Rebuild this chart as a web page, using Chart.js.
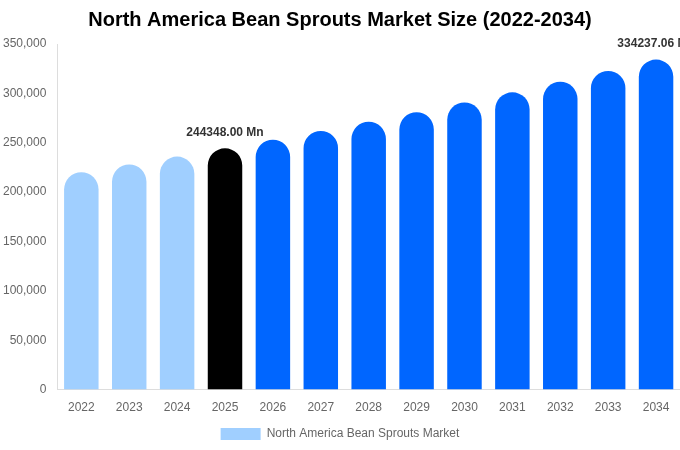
<!DOCTYPE html>
<html>
<head>
<meta charset="utf-8">
<script src="https://cdn.jsdelivr.net/npm/chart.js@4.4.1/dist/chart.umd.min.js"></script>
<style>
  html, body { margin: 0; padding: 0; background: #fff; }
  #wrap { width: 680px; height: 450px; }
</style>
</head>
<body>
<div id="wrap"><canvas id="marketChart"></canvas></div>
<script>
// data
const years = ['2022', '2023', '2024', '2025', '2026', '2027', '2028', '2029', '2030', '2031', '2032', '2033', '2034'];
const marketSize = [220130, 227920, 235990, 244348, 252999, 261955, 271230, 280830, 290770, 301060, 311720, 322760, 334237.06];
const barColors = ['#a0cfff', '#a0cfff', '#a0cfff', '#000000', '#0066ff', '#0066ff', '#0066ff', '#0066ff', '#0066ff', '#0066ff', '#0066ff', '#0066ff', '#0066ff'];
const labelledBars = [3, 12];
const yTicks = [0, 50000, 100000, 150000, 200000, 250000, 300000, 350000];

// draws the value label above the chosen bars
const valueLabels = {
    id: 'valueLabels',
    afterDatasetsDraw(chart) {
        const ctx = chart.ctx;
        const meta = chart.getDatasetMeta(0);
        ctx.save();
        ctx.font = 'bold 12px "Liberation Sans", Arial, sans-serif';
        ctx.fillStyle = '#333333';
        ctx.textAlign = 'center';
        ctx.textBaseline = 'bottom';
        labelledBars.forEach(i => {
            const bar = meta.data[i];
            ctx.fillText(marketSize[i].toFixed(2) + ' Mn', bar.x, bar.y - 10);
        });
        ctx.restore();
    }
};

const ctx = document.getElementById('marketChart').getContext('2d');
new Chart(ctx, {
    type: 'bar',
    data: {
        labels: years,
        datasets: [{
            label: 'North America Bean Sprouts Market',
            data: marketSize,
            backgroundColor: barColors,
            borderRadius: 40,
            borderSkipped: 'bottom'
        }]
    },
    options: {
        responsive: true,
        maintainAspectRatio: false,
        animation: false,
        layout: { padding: 0 },
        plugins: {
            title: {
                display: true,
                text: 'North America Bean Sprouts Market Size (2022-2034)',
                color: '#000000',
                font: { family: '"Liberation Sans", Arial, sans-serif', size: 20, weight: 'bold' },
                padding: { top: 8, bottom: 12 }
            },
            legend: {
                position: 'bottom',
                labels: {
                    color: '#666666',
                    boxWidth: 40,
                    boxHeight: 12,
                    font: { family: '"Liberation Sans", Arial, sans-serif', size: 12 },
                    generateLabels: () => [{
                        text: 'North America Bean Sprouts Market',
                        fillStyle: '#a0cfff',
                        strokeStyle: '#a0cfff',
                        lineWidth: 0,
                        fontColor: '#666666'
                    }]
                }
            },
            tooltip: { enabled: false }
        },
        scales: {
            x: {
                grid: { display: false },
                border: { display: true, color: '#dddddd' },
                ticks: {
                    color: '#666666',
                    font: { family: '"Liberation Sans", Arial, sans-serif', size: 12 }
                }
            },
            y: {
                min: 0,
                max: 350000,
                grid: { display: false },
                border: { display: true, color: '#dddddd' },
                afterBuildTicks: axis => {
                    axis.ticks = yTicks.map(v => ({ value: v }));
                },
                ticks: {
                    color: '#666666',
                    font: { family: '"Liberation Sans", Arial, sans-serif', size: 12 },
                    callback: v => v.toLocaleString('en-US')
                }
            }
        }
    },
    plugins: [valueLabels]
});
</script>
</body>
</html>
